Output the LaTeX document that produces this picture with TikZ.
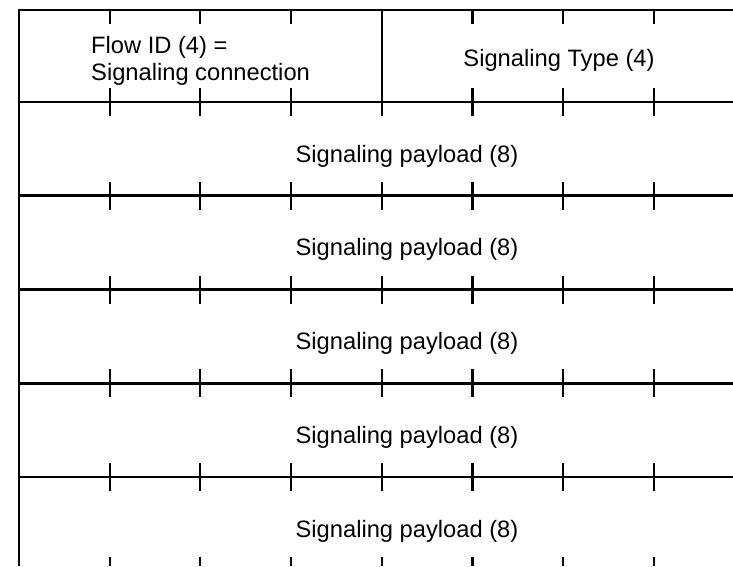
\documentclass[tikz,border=0pt]{standalone}
\usepackage{fontspec}
\setmainfont{Liberation Sans}
\begin{document}
\begin{tikzpicture}[x=1pt,y=-1pt,
  rule/.style={line width=2.8pt},
  tick/.style={line width=2.1pt},
  lbl/.style={inner sep=0pt,anchor=base,font=\fontsize{23.7}{27}\selectfont},
  lblw/.style={lbl,anchor=base west}]
\useasboundingbox (0,0) rectangle (733,566);
% horizontal rules
\foreach \y in {10,102,195.75,289.5,383.25,477}
  \draw[rule] (19,\y) -- (733,\y);
% left border
\draw[rule] (19,8.6) -- (19,566);
% divider in first row
\draw[tick] (381.8,10) -- (381.8,102);
% ticks on top rule
\foreach \k in {1,2,3,5,6,7}
  \draw[tick] ({19+90.7*\k},10) -- ({19+90.7*\k},24);
% ticks crossing internal rules
\foreach \y in {102,195.75,289.5,383.25,477}
  \foreach \k in {1,...,7}
    \draw[tick] ({19+90.7*\k},\y-14) -- ({19+90.7*\k},\y+14);
% ticks at bottom (next rule below picture)
\foreach \k in {1,...,7}
  \draw[tick] ({19+90.7*\k},556.75) -- ({19+90.7*\k},566);
% labels
\node[lblw] (flow1) at (91,53) {Flow ID (4) =};
\node[lblw] (flow2) at (91,80) {Signaling connection};
\node[lbl] (stype) at (559,66) {Signaling Type (4)};
\node[lbl] (p1) at (407,162) {Signaling payload (8)};
\node[lbl] (p2) at (407,255.75) {Signaling payload (8)};
\node[lbl] (p3) at (407,349.5) {Signaling payload (8)};
\node[lbl] (p4) at (407,443.25) {Signaling payload (8)};
\node[lbl] (p5) at (407,537) {Signaling payload (8)};
\end{tikzpicture}
\end{document}
